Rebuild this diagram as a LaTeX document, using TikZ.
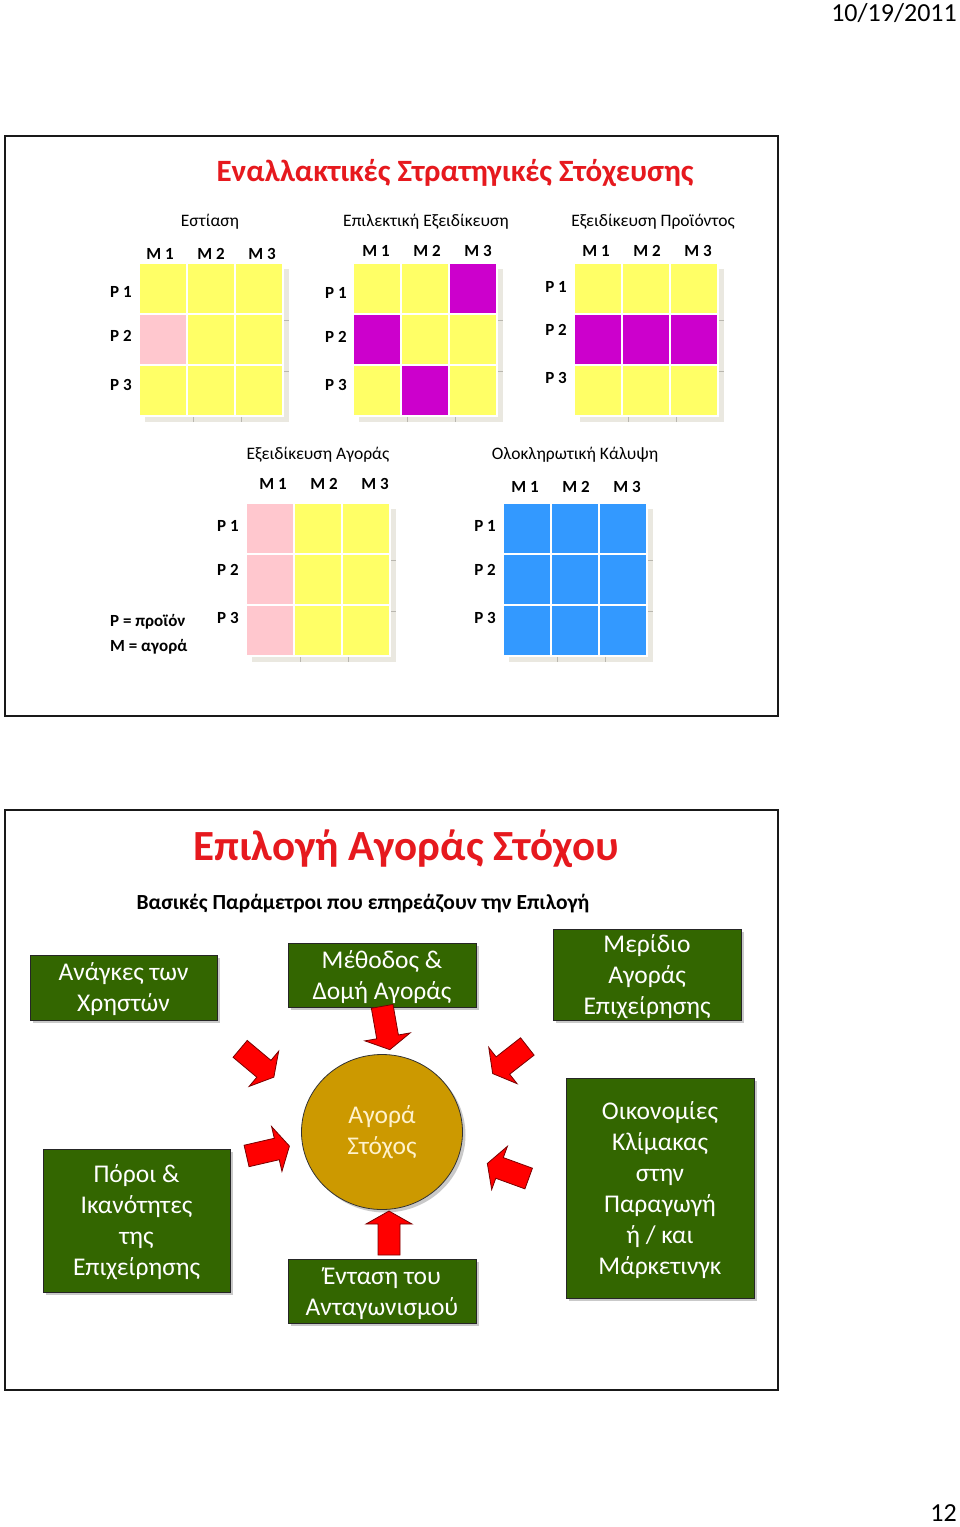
\documentclass[tikz,border=0pt]{standalone}
\usepackage{fontspec}
\setmainfont{Carlito}
\usetikzlibrary{shapes.geometric,shadows}
\definecolor{cyel}{RGB}{255,255,102}
\definecolor{cpink}{RGB}{255,199,206}
\definecolor{cmag}{RGB}{204,0,204}
\definecolor{cblue}{RGB}{51,153,255}
\definecolor{cgreen}{RGB}{51,102,0}
\definecolor{cgold}{RGB}{204,153,0}
\definecolor{ccream}{RGB}{255,242,204}
\definecolor{ctitle}{RGB}{230,25,30}
\definecolor{gshade}{RGB}{234,232,224}
\definecolor{gtick}{RGB}{185,183,175}
\definecolor{cred}{RGB}{255,0,0}
\definecolor{credline}{RGB}{120,0,0}

\newcommand\ppgrid[3]{%
  \fill[gshade] (#1+6,#2+6) rectangle (#1+150,#2+159);
  \foreach \k in {1,2}{
    \draw[gtick, line width=0.8] (#1+6+\k*48,#2+153) -- (#1+6+\k*48,#2+159);
    \draw[gtick, line width=0.8] (#1+144,#2+6+\k*51) -- (#1+150,#2+6+\k*51);
  }
  \foreach \cl [count=\i from 0] in {#3}{
    \pgfmathtruncatemacro\cc{mod(\i,3)}
    \pgfmathtruncatemacro\rr{(\i-\cc)/3}
    \fill[\cl, draw=white, line width=1.2] (#1+\cc*48,#2+\rr*51) rectangle ++(48,51);
  }}

\begin{document}
\begin{tikzpicture}[x=1pt,y=-1pt,
  lbl/.style={font=\fontsize{17}{20}\selectfont\bfseries, inner sep=0},
  gtitle/.style={font=\fontsize{17.5}{21}\selectfont, inner sep=0},
  slide/.style={draw=black!90, line width=2},
  gbox/.style={rectangle, fill=cgreen, draw=black!85, line width=0.8, text=white,
    align=center, font=\fontsize{25.5}{31}\selectfont, inner sep=0,
    drop shadow={shadow xshift=3pt, shadow yshift=-3pt, opacity=0.35, fill=black!60}},
  redarr/.pic={\draw[fill=cred, draw=credline, line width=0.8, line join=miter]
    (-22,-11) -- (9,-11) -- (9,-23) -- (22,0) -- (9,23) -- (9,11) -- (-22,11) -- cycle;}
]
\useasboundingbox (0,0) rectangle (960,1527);
\fill[white] (0,0) rectangle (960,1527);

% header / footer
\node[font=\fontsize{26}{30}\selectfont, anchor=east, inner sep=0] (date) at (957,13) {10/19/2011};
\node[font=\fontsize{26}{30}\selectfont, anchor=east, inner sep=0] (page) at (957,1513) {12};

% ---------- slide 1 ----------
\draw[slide] (5,136) rectangle (778,716);
\node[font=\fontsize{31}{37}\selectfont\bfseries, text=ctitle, inner sep=0] (t1) at (455,173) {Εναλλακτικές Στρατηγικές Στόχευσης};

% grid 1
\ppgrid{139}{263}{cyel,cyel,cyel,cpink,cyel,cyel,cyel,cyel,cyel}
\node[gtitle] (g1t) at (210,222) {Εστίαση};
\node[lbl] (g1m1) at (160,254) {M 1};
\node[lbl] (g1m2) at (211,254) {M 2};
\node[lbl] (g1m3) at (262,254) {M 3};
\node[lbl] (g1p1) at (121,292) {P 1};
\node[lbl] (g1p2) at (121,336) {P 2};
\node[lbl] (g1p3) at (121,385) {P 3};

% grid 2
\ppgrid{353}{263}{cyel,cyel,cmag,cmag,cyel,cyel,cyel,cmag,cyel}
\node[gtitle] (g2t) at (426,222) {Επιλεκτική Εξειδίκευση};
\node[lbl] (g2m1) at (376,251) {M 1};
\node[lbl] (g2m2) at (427,251) {M 2};
\node[lbl] (g2m3) at (478,251) {M 3};
\node[lbl] (g2p1) at (336,293) {P 1};
\node[lbl] (g2p2) at (336,337) {P 2};
\node[lbl] (g2p3) at (336,385) {P 3};

% grid 3
\ppgrid{574}{263}{cyel,cyel,cyel,cmag,cmag,cmag,cyel,cyel,cyel}
\node[gtitle] (g3t) at (653,222) {Εξειδίκευση Προϊόντος};
\node[lbl] (g3m1) at (596,251) {M 1};
\node[lbl] (g3m2) at (647,251) {M 2};
\node[lbl] (g3m3) at (698,251) {M 3};
\node[lbl] (g3p1) at (556,287) {P 1};
\node[lbl] (g3p2) at (556,330) {P 2};
\node[lbl] (g3p3) at (556,378) {P 3};

% grid 4
\ppgrid{246}{503}{cpink,cyel,cyel,cpink,cyel,cyel,cpink,cyel,cyel}
\node[gtitle] (g4t) at (318,455) {Εξειδίκευση Αγοράς};
\node[lbl] (g4m1) at (273,484) {M 1};
\node[lbl] (g4m2) at (324,484) {M 2};
\node[lbl] (g4m3) at (375,484) {M 3};
\node[lbl] (g4p1) at (228,526) {P 1};
\node[lbl] (g4p2) at (228,570) {P 2};
\node[lbl] (g4p3) at (228,618) {P 3};

% grid 5
\ppgrid{503}{503}{cblue,cblue,cblue,cblue,cblue,cblue,cblue,cblue,cblue}
\node[gtitle] (g5t) at (575,455) {Ολοκληρωτική Κάλυψη};
\node[lbl] (g5m1) at (525,487) {M 1};
\node[lbl] (g5m2) at (576,487) {M 2};
\node[lbl] (g5m3) at (627,487) {M 3};
\node[lbl] (g5p1) at (485,526) {P 1};
\node[lbl] (g5p2) at (485,570) {P 2};
\node[lbl] (g5p3) at (485,618) {P 3};

\node[lbl, anchor=west] (legp) at (110,622) {P = προϊόν};
\node[lbl, anchor=west] (legm) at (110,647) {M = αγορά};

% ---------- slide 2 ----------
\draw[slide] (5,810) rectangle (778,1390);
\node[font=\fontsize{43}{50}\selectfont\bfseries, text=ctitle, inner sep=0] (t2) at (406,849) {Επιλογή Αγοράς Στόχου};
\node[font=\fontsize{21.5}{26}\selectfont\bfseries, inner sep=0] (sub) at (363,904) {Βασικές Παράμετροι που επηρεάζουν την Επιλογή};

\node[gbox, minimum width=187, minimum height=65] (needs) at (123.5,987.5) {\rule{0pt}{22pt}Ανάγκες των\\Χρηστών};
\node[gbox, minimum width=188, minimum height=64] (method) at (382,975) {\rule{0pt}{22pt}Μέθοδος \&\\Δομή Αγοράς};
\node[gbox, minimum width=188, minimum height=91] (share) at (647,974.5) {\rule{0pt}{22pt}Μερίδιο\\Αγοράς\\Επιχείρησης};
\node[gbox, minimum width=188, minimum height=220] (scale) at (660,1188) {\rule{0pt}{22pt}Οικονομίες\\Κλίμακας\\στην\\Παραγωγή\\ή / και\\Μάρκετινγκ};
\node[gbox, minimum width=187, minimum height=143] (res) at (136.5,1220.5) {\rule{0pt}{22pt}Πόροι \&\\Ικανότητες\\της\\Επιχείρησης};
\node[gbox, minimum width=188, minimum height=64] (comp) at (382,1291) {\rule{0pt}{22pt}Ένταση του\\Ανταγωνισμού};

\node[ellipse, fill=cgold, draw=black!80, line width=0.8, minimum width=161, minimum height=155,
  text=ccream, align=center, font=\fontsize{25.5}{31}\selectfont, inner sep=0,
  drop shadow={shadow xshift=3pt, shadow yshift=-3pt, opacity=0.35, fill=black!60}] (target) at (382,1132) {Αγορά\\Στόχος};

% block arrows
\pic[rotate=-80] at (386,1028) {redarr};
\pic[rotate=90] at (389,1233) {redarr};
\pic[rotate=-40] at (257,1063) {redarr};
\pic[rotate=-142] at (510,1060) {redarr};
\pic[rotate=13] at (268,1151) {redarr};
\pic[rotate=160] at (508,1171) {redarr};
\end{tikzpicture}
\end{document}
